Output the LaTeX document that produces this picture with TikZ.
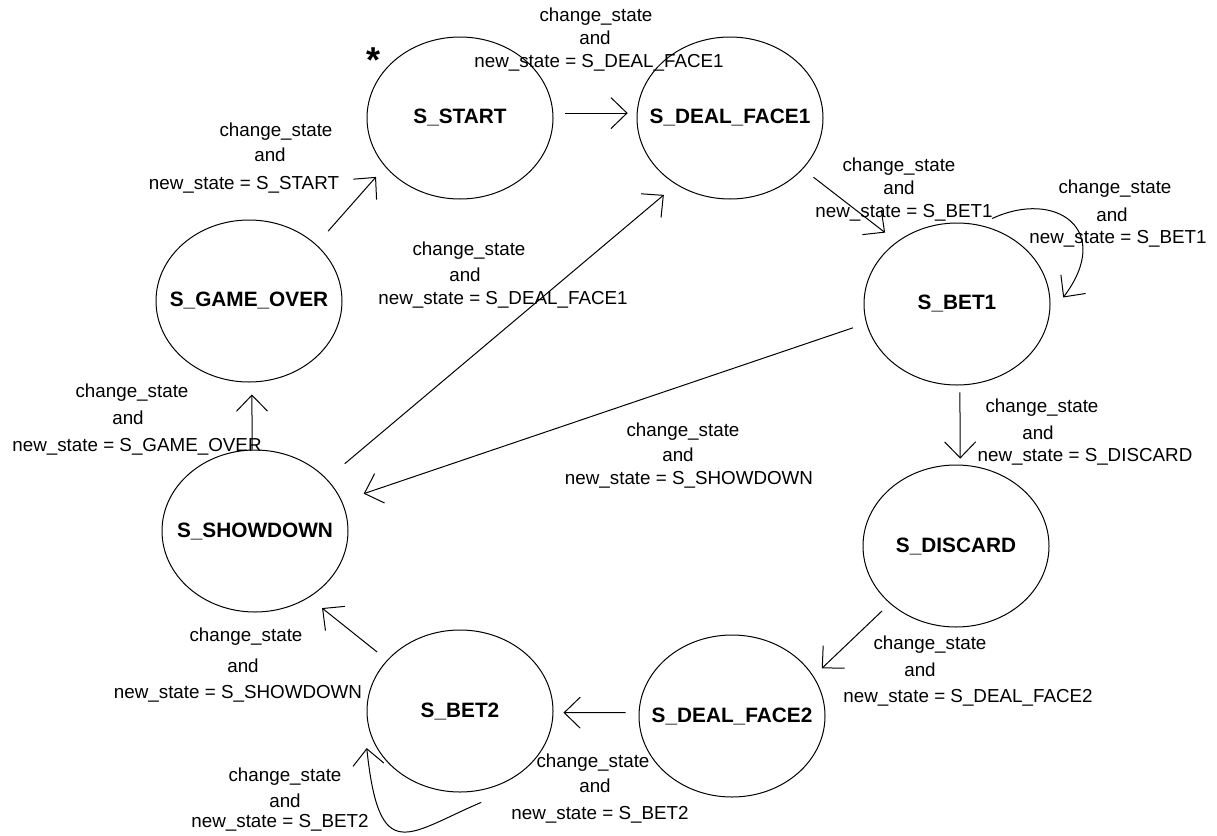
\documentclass[tikz,border=0pt]{standalone}
\usepackage{fontspec}
\setmainfont{Liberation Sans}
\usetikzlibrary{shapes.geometric,arrows.meta}
\begin{document}
\begin{tikzpicture}[x=1pt,y=-1pt,
  state/.style={draw, ellipse, line width=1pt, minimum width=186pt, minimum height=162pt,
    inner sep=0pt, font=\fontsize{20.8}{24}\selectfont\bfseries},
  lbl/.style={font=\fontsize{18.8}{22}\selectfont, inner sep=0pt, text height=13.5pt, text depth=3.8pt},
  arr/.style={line width=1pt, -{Straight Barb[length=16pt,width=31pt,line width=1pt]}}]
\useasboundingbox (0,0) rectangle (1217,835);

% states
\node[state] (start)    at (460,118) {\makebox[0pt]{S\_START}};
\node[state] (deal1)    at (730,118) {\makebox[0pt]{S\_DEAL\_FACE1}};
\node[state] (bet1)     at (957,304) {\makebox[0pt]{S\_BET1}};
\node[state] (discard)  at (956,546) {\makebox[0pt]{S\_DISCARD}};
\node[state] (deal2)    at (732,716) {\makebox[0pt]{S\_DEAL\_FACE2}};
\node[state] (bet2)     at (460,711) {\makebox[0pt]{S\_BET2}};
\node[state] (showdown) at (255,531) {\makebox[0pt]{S\_SHOWDOWN}};
\node[state] (gameover) at (249,301) {\makebox[0pt]{S\_GAME\_OVER}};

\node[font=\fontsize{36}{40}\selectfont\bfseries, anchor=base, inner sep=0pt] (star) at (373,72) {*};

% connectors
\draw[arr, shorten <=12pt, shorten >=9pt] (start.3) -- (deal1.177);
\draw[arr, shorten <=13.4pt, shorten >=14.8pt] (deal1.-35.4) -- (bet1.134.6);
\draw[arr] ([shift={(0,-10)}]bet1.65) .. controls +(-25:70) and +(-53:85) .. ([shift={(13,0)}]bet1.4);
\draw[arr, shorten <=7pt, shorten >=6pt] (bet1.-88) -- (discard.87);
\draw[arr, shorten <=14pt, shorten >=23pt] (bet1.192.5) -- (showdown.19.4);
\draw[arr, shorten <=10.6pt, shorten >=11.3pt] (discard.221.7) -- (deal2.26.3);
\draw[arr, shorten <=13pt, shorten >=10pt] (deal2.178.4) -- (bet2.-1.1);
\draw[arr] ([shift={(0,12)}]bet2.-75) .. controls +(157:80) and +(84:120) .. ([shift={(-10,0)}]bet2.204);
\draw[arr, shorten <=12.8pt, shorten >=16.8pt] (bet2.145) -- (showdown.-51.8);
\draw[arr, shorten >=12pt] (showdown.92.8) -- (gameover.-88.8);
\draw[arr, shorten <=23.4pt, shorten >=16pt] (showdown.36.3) -- (deal1.231.4);
\draw[arr, shorten <=17.7pt, shorten >=13.6pt] (gameover.40.4) -- (start.213.8);

% labels
\node[lbl] (l1a) at (596,17) {change\_state};
\node[lbl] (l1b) at (595,40) {and};
\node[lbl] (l1c) at (599,63) {new\_state = S\_DEAL\_FACE1};

\node[lbl] (l2a) at (899,167) {change\_state};
\node[lbl] (l2b) at (899,190) {and};
\node[lbl] (l2c) at (904,213) {new\_state = S\_BET1};

\node[lbl] (l3a) at (1115,189) {change\_state};
\node[lbl] (l3b) at (1112,217) {and};
\node[lbl] (l3c) at (1118,239) {new\_state = S\_BET1};

\node[lbl] (l4a) at (1042,408) {change\_state};
\node[lbl] (l4b) at (1038,435) {and};
\node[lbl] (l4c) at (1085,457) {new\_state = S\_DISCARD};

\node[lbl] (l5a) at (683,432) {change\_state};
\node[lbl] (l5b) at (678,457) {and};
\node[lbl] (l5c) at (689,480) {new\_state = S\_SHOWDOWN};

\node[lbl] (l6a) at (930,645) {change\_state};
\node[lbl] (l6b) at (920,672) {and};
\node[lbl] (l6c) at (968,698) {new\_state = S\_DEAL\_FACE2};

\node[lbl] (l7a) at (593,763) {change\_state};
\node[lbl] (l7b) at (595,788) {and};
\node[lbl] (l7c) at (600,815) {new\_state = S\_BET2};

\node[lbl] (l8a) at (285,777) {change\_state};
\node[lbl] (l8b) at (285,803) {and};
\node[lbl] (l8c) at (280,823) {new\_state = S\_BET2};

\node[lbl] (l9a) at (246,637) {change\_state};
\node[lbl] (l9b) at (243,668) {and};
\node[lbl] (l9c) at (238,694) {new\_state = S\_SHOWDOWN};

\node[lbl] (l10a) at (132,393) {change\_state};
\node[lbl] (l10b) at (128,420) {and};
\node[lbl] (l10c) at (137,447) {new\_state = S\_GAME\_OVER};

\node[lbl] (l11a) at (469,251) {change\_state};
\node[lbl] (l11b) at (465,277) {and};
\node[lbl] (l11c) at (503,300) {new\_state = S\_DEAL\_FACE1};

\node[lbl] (l12a) at (276,132) {change\_state};
\node[lbl] (l12b) at (270,157) {and};
\node[lbl] (l12c) at (244,185) {new\_state = S\_START};
\end{tikzpicture}
\end{document}
